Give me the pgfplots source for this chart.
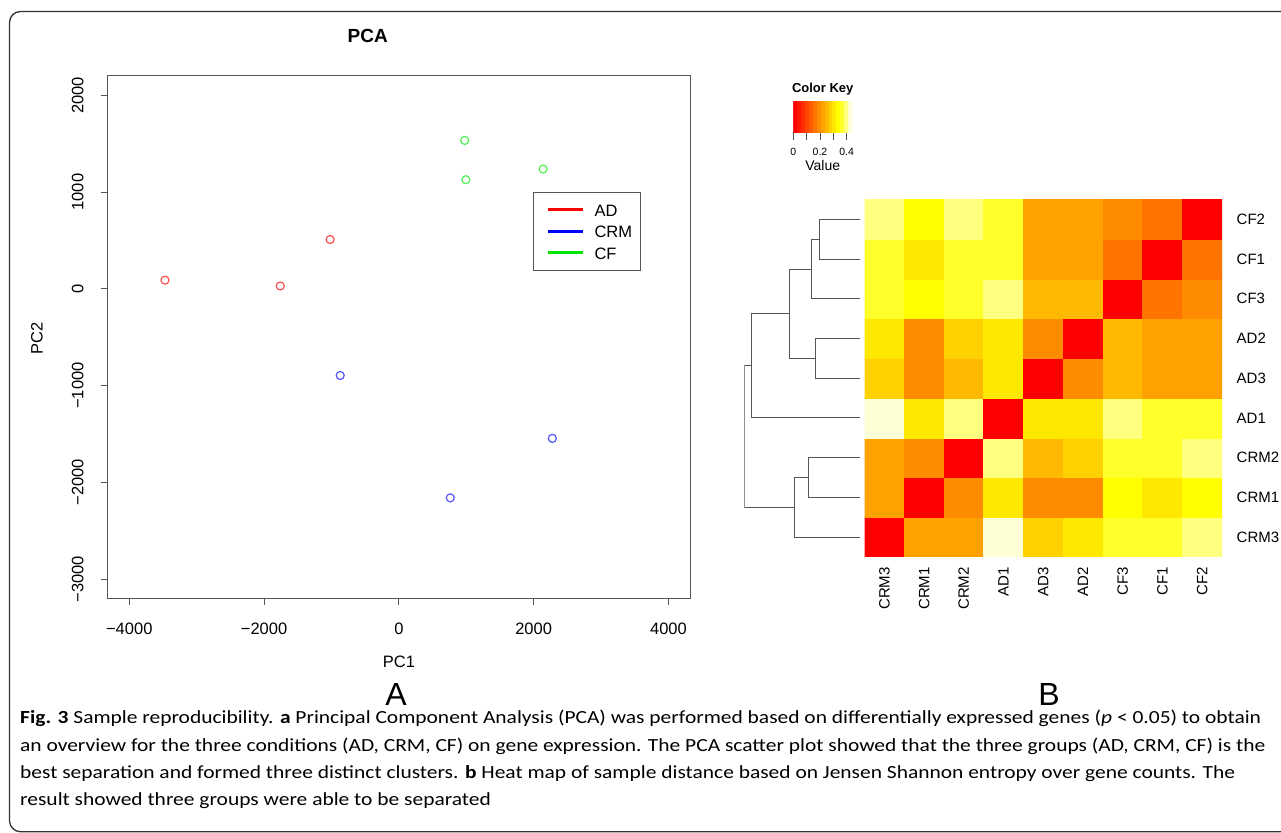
\documentclass[border=0pt]{standalone}
\usepackage{fontspec}
\setmainfont{Liberation Sans}
\newfontfamily\capfont[FakeStretch=1.16]{Carlito}
\usepackage{pgfplots}
\pgfplotsset{compat=1.18}

\definecolor{ptred}{RGB}{255,80,80}
\definecolor{ptblue}{RGB}{85,85,255}
\definecolor{ptgreen}{RGB}{80,240,80}
\definecolor{lgred}{RGB}{255,0,0}
\definecolor{lgblue}{RGB}{0,0,255}
\definecolor{lggreen}{RGB}{0,230,0}
\definecolor{axgray}{RGB}{85,85,85}

% heat.colors(15) as used by heatmap.2
\pgfplotsset{
  colormap={heatcol}{
    rgb255=(255,0,0) rgb255=(255,23,0) rgb255=(255,46,0) rgb255=(255,70,0)
    rgb255=(255,93,0) rgb255=(255,116,0) rgb255=(255,139,0) rgb255=(255,162,0)
    rgb255=(255,185,0) rgb255=(255,209,0) rgb255=(255,232,0) rgb255=(255,255,0)
    rgb255=(255,255,42) rgb255=(255,255,128) rgb255=(255,255,213)
  },
}

% sample distances, order: CRM3 CRM1 CRM2 AD1 AD3 AD2 CF3 CF1 CF2
\pgfplotstableread{
x y d
0 0 0
1 0 0.221
2 0 0.221
3 0 0.427
4 0 0.280
5 0 0.309
6 0 0.368
7 0 0.368
8 0 0.398
0 1 0.221
1 1 0
2 1 0.192
3 1 0.309
4 1 0.192
5 1 0.192
6 1 0.339
7 1 0.309
8 1 0.339
0 2 0.221
1 2 0.192
2 2 0
3 2 0.398
4 2 0.250
5 2 0.280
6 2 0.368
7 2 0.368
8 2 0.398
0 3 0.427
1 3 0.309
2 3 0.398
3 3 0
4 3 0.309
5 3 0.309
6 3 0.398
7 3 0.368
8 3 0.368
0 4 0.280
1 4 0.192
2 4 0.250
3 4 0.309
4 4 0
5 4 0.192
6 4 0.250
7 4 0.221
8 4 0.221
0 5 0.309
1 5 0.192
2 5 0.280
3 5 0.309
4 5 0.192
5 5 0
6 5 0.250
7 5 0.221
8 5 0.221
0 6 0.368
1 6 0.339
2 6 0.368
3 6 0.398
4 6 0.250
5 6 0.250
6 6 0
7 6 0.162
8 6 0.192
0 7 0.368
1 7 0.309
2 7 0.368
3 7 0.368
4 7 0.221
5 7 0.221
6 7 0.162
7 7 0
8 7 0.162
0 8 0.398
1 8 0.339
2 8 0.398
3 8 0.368
4 8 0.221
5 8 0.221
6 8 0.192
7 8 0.162
8 8 0
}\distmat

\begin{document}
\begin{tikzpicture}
\useasboundingbox (0pt,0pt) rectangle (1281pt,832pt);
\draw[line width=1.3pt, black!80, rounded corners=11pt] (9.5pt,0.3pt) rectangle (1310pt,820.5pt);

% ---------- A: PCA ----------
\begin{axis}[
  at={(107.7pt,233.5pt)}, anchor=south west, scale only axis,
  width=582.3pt, height=522.5pt,
  xmin=-4320, xmax=4320, ymin=-3200, ymax=2200,
  xtick={-4000,-2000,0,2000,4000},
  xticklabels={−4000,−2000,0,2000,4000},
  ytick={-3000,-2000,-1000,0,1000,2000},
  yticklabels={−3000,−2000,−1000,0,1000,2000},
  tick align=outside, tick pos=left,
  major tick length=7pt,
  axis line style={axgray, line width=1pt},
  every tick/.style={axgray, line width=1pt},
  tick label style={font=\fontsize{16.5}{19}\selectfont, inner sep=0pt},
  xticklabel style={anchor=north},
  yticklabel style={rotate=90, anchor=south},
  xticklabel shift=17pt, yticklabel shift=17pt,
  legend style={at={(0.7304,0.778)}, anchor=north west, draw=axgray, line width=1pt,
    inner xsep=8pt, inner ysep=11.5pt, row sep=9pt, column sep=5pt,
    font=\fontsize{16.5}{19}\selectfont,
    nodes={inner sep=0pt, text height=12.5pt, text depth=0pt}},
  legend cell align=left,
  legend image code/.code={\path[draw=none] (0pt,0pt) -- (48pt,0pt);
    \draw[#1, line width=3pt] (6pt,0.5pt) -- (41pt,0.5pt);},
]
\addlegendimage{lgred}
\addlegendentry{AD}
\addlegendimage{lgblue}
\addlegendentry{CRM}
\addlegendimage{lggreen}
\addlegendentry{CF}
\addplot[only marks, mark=o, mark size=4pt, ptred, line width=1.2pt, forget plot]
  coordinates {(-3470,90) (-1760,30) (-1020,510)};
\addplot[only marks, mark=o, mark size=4pt, ptblue, line width=1.2pt, forget plot]
  coordinates {(-870,-895) (763,-2160) (2277,-1545)};
\addplot[only marks, mark=o, mark size=4pt, ptgreen, line width=1.2pt, forget plot]
  coordinates {(977,1534) (994,1128) (2141,1238)};
\end{axis}
\node[font=\bfseries\fontsize{19}{22}\selectfont] at (367.7pt,796pt) {PCA};
\node[font=\fontsize{16.5}{19}\selectfont] at (399pt,170pt) {PC1};
\node[font=\fontsize{16.5}{19}\selectfont, rotate=90] at (37pt,494pt) {PC2};
\node[font=\fontsize{32}{36}\selectfont] at (396pt,138pt) {A};
\node[font=\fontsize{32}{36}\selectfont] at (1049pt,138pt) {B};

% ---------- B: heatmap ----------
\begin{axis}[
  at={(864.5pt,275pt)}, anchor=south west, scale only axis,
  width=357.5pt, height=357.5pt,
  xmin=-0.5, xmax=8.5, ymin=-0.5, ymax=8.5,
  axis line style={draw=none}, major tick length=0pt, tick style={draw=none},
  xtick={0,...,8}, ytick={0,...,8},
  xticklabels={CRM3,CRM1,CRM2,AD1,AD3,AD2,CF3,CF1,CF2},
  yticklabels={CRM3,CRM1,CRM2,AD1,AD3,AD2,CF3,CF1,CF2},
  xticklabel pos=left, yticklabel pos=right,
  tick label style={font=\fontsize{15}{18}\selectfont, inner sep=0pt},
  xticklabel style={rotate=90, anchor=east},
  yticklabel style={anchor=west},
  xticklabel shift=10pt, yticklabel shift=14.5pt,
  colormap name=heatcol, colormap access=piecewise constant,
  point meta min=0, point meta max=0.442,
]
\addplot[matrix plot*, mesh/cols=9, point meta=explicit] table[meta=d] {\distmat};
\end{axis}

% row dendrogram
\begin{axis}[
  at={(744.3pt,275pt)}, anchor=south west, scale only axis,
  width=115.7pt, height=357.5pt,
  x dir=reverse, xmin=0, xmax=1.157, ymin=-0.5, ymax=8.5,
  hide axis,
]
\addplot[axgray, line width=1pt] coordinates {(0,8) (0.407,8) (0.407,7) (0,7)};
\addplot[axgray, line width=1pt] coordinates {(0.407,7.5) (0.483,7.5) (0.483,6) (0,6)};
\addplot[axgray, line width=1pt] coordinates {(0,5) (0.447,5) (0.447,4) (0,4)};
\addplot[axgray, line width=1pt] coordinates {(0.483,6.75) (0.707,6.75) (0.707,4.5) (0.447,4.5)};
\addplot[axgray, line width=1pt] coordinates {(0.707,5.625) (1.087,5.625) (1.087,3) (0,3)};
\addplot[axgray, line width=1pt] coordinates {(0,2) (0.52,2) (0.52,1) (0,1)};
\addplot[axgray, line width=1pt] coordinates {(0.52,1.5) (0.657,1.5) (0.657,0) (0,0)};
\addplot[axgray, line width=1pt] coordinates {(1.087,4.3125) (1.157,4.3125) (1.157,0.75) (0.657,0.75)};
\end{axis}

% colour key
\begin{axis}[
  at={(793.3pt,699.7pt)}, anchor=south west, scale only axis,
  width=59pt, height=31.3pt,
  xmin=0, xmax=0.442, ymin=0, ymax=1,
  axis x line*=bottom, axis y line=none, ytick=\empty,
  xtick={0,0.1,0.2,0.3,0.4}, xticklabels={0,,0.2,,0.4},
  tick align=outside, major tick length=7.5pt,
  axis line style={axgray, line width=0.8pt},
  every tick/.style={axgray, line width=0.8pt},
  tick label style={font=\fontsize{10.5}{12}\selectfont, inner sep=0pt},
  xticklabel style={anchor=north}, xticklabel shift=8pt,
  colormap name=heatcol, colormap access=piecewise constant,
  point meta min=0, point meta max=0.442,
]
\addplot[surf, shader=flat mean, mesh/rows=2, point meta=x] coordinates {
(0,0) (0.0295,0) (0.0589,0) (0.0884,0) (0.1179,0) (0.1473,0) (0.1768,0) (0.2063,0)
(0.2357,0) (0.2652,0) (0.2947,0) (0.3241,0) (0.3536,0) (0.3831,0) (0.4125,0) (0.442,0)
(0,1) (0.0295,1) (0.0589,1) (0.0884,1) (0.1179,1) (0.1473,1) (0.1768,1) (0.2063,1)
(0.2357,1) (0.2652,1) (0.2947,1) (0.3241,1) (0.3536,1) (0.3831,1) (0.4125,1) (0.442,1)
};
\end{axis}
\node[font=\bfseries\fontsize{13}{15}\selectfont] at (822.7pt,743pt) {Color Key};
\node[font=\fontsize{14}{16}\selectfont] at (822.7pt,666.3pt) {Value};

% ---------- caption ----------
\begin{scope}[every node/.style={anchor=base west, inner sep=0pt, font=\capfont\fontsize{18.5}{22}\selectfont}]
\node at (20pt,108pt) {\textbf{Fig. 3} Sample reproducibility. \textbf{a} Principal Component Analysis (PCA) was performed based on differentially expressed genes (\textit{p} < 0.05) to obtain};
\node at (20pt,81pt) {an overview for the three conditions (AD, CRM, CF) on gene expression. The PCA scatter plot showed that the three groups (AD, CRM, CF) is the};
\node at (20pt,54pt) {best separation and formed three distinct clusters. \textbf{b} Heat map of sample distance based on Jensen Shannon entropy over gene counts. The};
\node at (20pt,27pt) {result showed three groups were able to be separated};
\end{scope}
\end{tikzpicture}
\end{document}
